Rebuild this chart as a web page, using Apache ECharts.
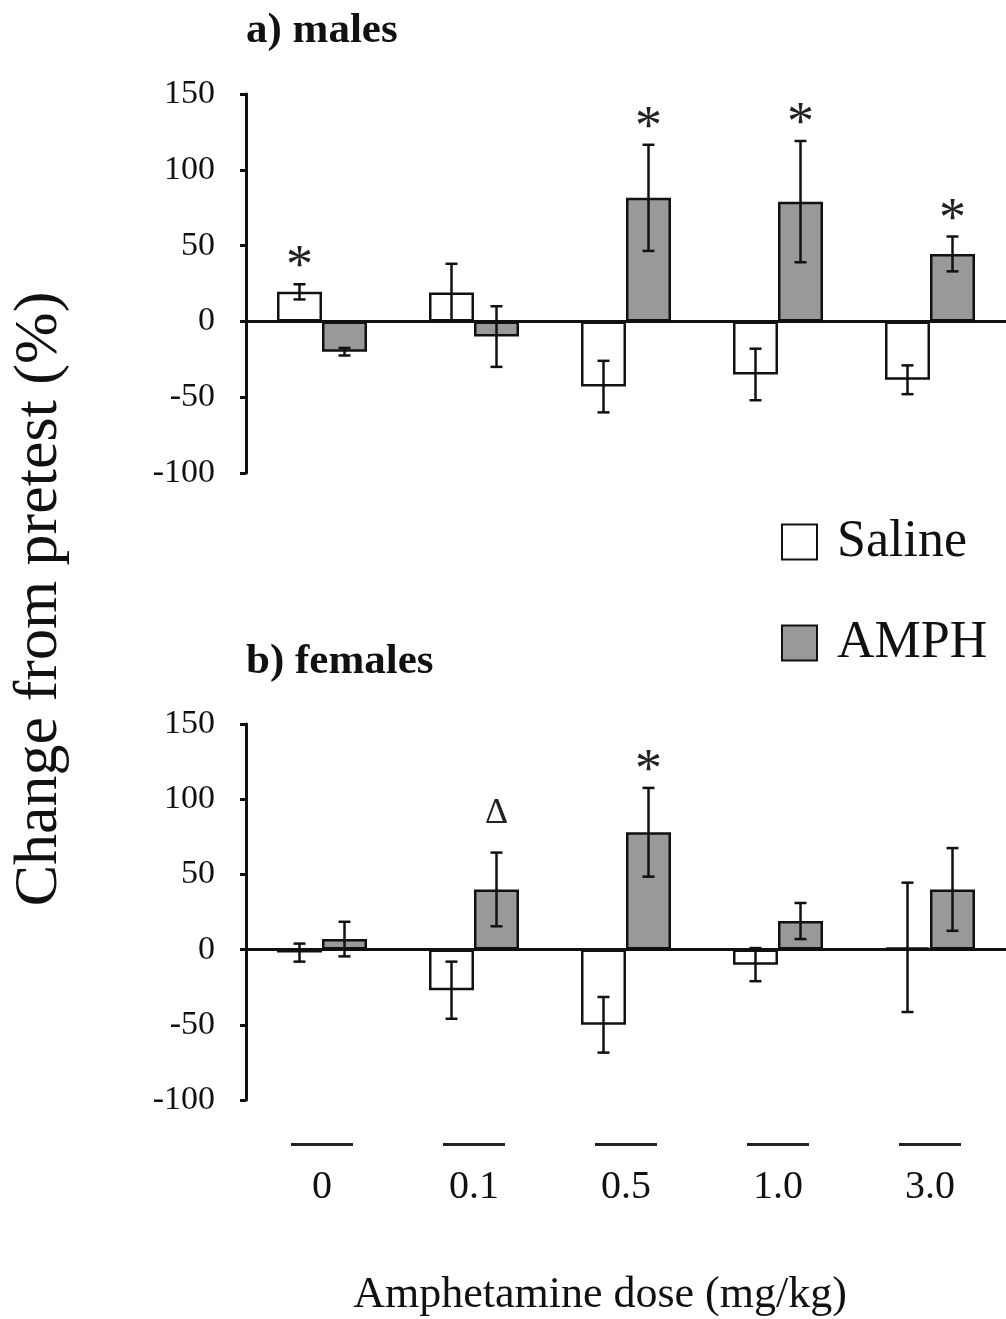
<!DOCTYPE html>
<html>
<head>
<meta charset="utf-8">
<script src="https://cdn.jsdelivr.net/npm/echarts@6/dist/echarts.min.js"></script>
<style>
  html, body { margin: 0; padding: 0; background: #fff; }
  #main { width: 1006px; height: 1319px; }
</style>
</head>
<body>
<div id="main"></div>
<script>
// doses on the x axis
var doses = ['0', '0.1', '0.5', '1.0', '3.0'];
// y axis range (%)
var yMin = -100, yMax = 150, yStep = 50;

// a) males
var maleSaline = [19.5, 19, -43, -35, -38.5];
var maleSalineErr = [5, 19, 17, 17, 9.5];
var maleAmph = [-20, -10, 81.5, 79, 44.5];
var maleAmphErr = [2.5, 20, 35, 40, 11.5];
var maleSalineMarks = ['*', '', '', '', ''];
var maleAmphMarks = ['', '', '*', '*', '*'];

// b) females
var femaleSaline = [-2, -27, -50, -10, 1.5];
var femaleSalineErr = [6, 19, 18.5, 11, 43];
var femaleAmph = [7, 40, 78, 19, 40];
var femaleAmphErr = [11.5, 24.5, 29.5, 12, 27.5];
var femaleSalineMarks = ['', '', '', '', ''];
var femaleAmphMarks = ['', '\u0394', '*', '', ''];

var FONT = '"Liberation Serif", "Times New Roman", serif';
var INK = '#111';
var BAR_W = 45;

var myChart = echarts.init(document.getElementById('main'));

// error bar + significance mark, drawn from the axis scale
function errSeries(name, vals, errs, marks, side, gi) {
    var data = vals.map(function (v, i) {
        return [i, v - errs[i], v + errs[i]];
    });
    return {
        name: name + '-err',
        type: 'custom',
        xAxisIndex: gi,
        yAxisIndex: gi,
        z: 5,
        silent: true,
        data: data,
        encode: { x: 0, y: [1, 2] },
        renderItem: function (params, api) {
            var i = params.dataIndex;
            var top = api.coord([api.value(0), api.value(2)]);
            var bot = api.coord([api.value(0), api.value(1)]);
            var x = top[0] + side * BAR_W / 2;
            var st = { stroke: INK, lineWidth: 2.5 };
            var kids = [
                { type: 'line', shape: { x1: x, y1: top[1], x2: x, y2: bot[1] }, style: st },
                { type: 'line', shape: { x1: x - 6, y1: top[1], x2: x + 6, y2: top[1] }, style: st },
                { type: 'line', shape: { x1: x - 6, y1: bot[1], x2: x + 6, y2: bot[1] }, style: st }
            ];
            var m = marks[i];
            if (m === '*') {
                kids.push({ type: 'text', style: {
                    text: '*', x: x, y: top[1] - 16, align: 'center', verticalAlign: 'middle',
                    fontSize: 54, fontFamily: FONT, fill: '#222'
                } });
            } else if (m) {
                kids.push({ type: 'text', style: {
                    text: m, x: x, y: top[1] - 39, align: 'center', verticalAlign: 'middle',
                    fontSize: 36, fontFamily: FONT, fill: '#222'
                } });
            }
            return { type: 'group', children: kids };
        }
    };
}

function barSeries(name, vals, color, gi) {
    return {
        name: name,
        type: 'bar',
        xAxisIndex: gi,
        yAxisIndex: gi,
        barWidth: BAR_W,
        barGap: 0,
        data: vals,
        itemStyle: { color: color, borderColor: INK, borderWidth: 2.5 },
        emphasis: { disabled: true }
    };
}

function yAx(gi) {
    return {
        type: 'value',
        gridIndex: gi,
        min: yMin,
        max: yMax,
        interval: yStep,
        splitLine: { show: false },
        axisLine: { show: true, lineStyle: { color: INK, width: 3 } },
        axisTick: { show: true, length: 6, lineStyle: { color: INK, width: 3 } },
        axisLabel: { fontSize: 34, fontFamily: FONT, color: INK, margin: 31 }
    };
}

function xAx(gi) {
    return {
        type: 'category',
        gridIndex: gi,
        data: doses,
        position: 'bottom',
        axisLine: { onZero: true, lineStyle: { color: INK, width: 3 } },
        axisTick: { show: false },
        axisLabel: { show: false }
    };
}

var option = {
    animation: false,
    backgroundColor: '#fff',
    title: [
        { text: 'a) males', left: 241, top: 4,
          textStyle: { fontSize: 43, fontWeight: 'bold', fontFamily: FONT, color: INK } },
        { text: 'b) females', left: 241, top: 635,
          textStyle: { fontSize: 43, fontWeight: 'bold', fontFamily: FONT, color: INK } }
    ],
    legend: {
        data: ['Saline', 'AMPH'],
        orient: 'vertical',
        left: 776,
        top: 511,
        itemWidth: 35,
        itemHeight: 35,
        itemGap: 49,
        icon: 'rect',
        textStyle: { fontSize: 52, fontFamily: FONT, color: INK, padding: [0, 0, 0, 15] },
        selectedMode: false
    },
    grid: [
        { left: 246, top: 94, width: 765, height: 379 },
        { left: 246, top: 724, width: 765, height: 376 }
    ],
    xAxis: [
        xAx(0),
        xAx(1),
        {
            type: 'category',
            gridIndex: 1,
            data: doses,
            position: 'bottom',
            axisLine: { show: false, onZero: false },
            axisTick: { show: false },
            axisLabel: {
                margin: 43,
                formatter: function (v) { return '{d| }\n{v|' + v + '}'; },
                rich: {
                    d: { width: 62, height: 3, lineHeight: 3, backgroundColor: '#222', fontSize: 1 },
                    v: { fontSize: 40, lineHeight: 82, fontFamily: FONT, color: INK }
                }
            }
        }
    ],
    yAxis: [yAx(0), yAx(1)],
    graphic: [
        { type: 'text', x: 40, y: 599, rotation: Math.PI / 2,
          style: { text: 'Change from pretest (%)', fontSize: 62, fontFamily: FONT, fill: INK,
                   align: 'center', verticalAlign: 'middle' } },
        { type: 'text', x: 600, y: 1295,
          style: { text: 'Amphetamine dose (mg/kg)', fontSize: 44, fontFamily: FONT, fill: INK,
                   align: 'center', verticalAlign: 'middle' } }
    ],
    series: [
        barSeries('Saline', maleSaline, '#fff', 0),
        barSeries('AMPH', maleAmph, '#999', 0),
        errSeries('Saline', maleSaline, maleSalineErr, maleSalineMarks, -1, 0),
        errSeries('AMPH', maleAmph, maleAmphErr, maleAmphMarks, 1, 0),
        barSeries('Saline', femaleSaline, '#fff', 1),
        barSeries('AMPH', femaleAmph, '#999', 1),
        errSeries('Saline', femaleSaline, femaleSalineErr, femaleSalineMarks, -1, 1),
        errSeries('AMPH', femaleAmph, femaleAmphErr, femaleAmphMarks, 1, 1)
    ]
};
myChart.setOption(option);
</script>
</body>
</html>
